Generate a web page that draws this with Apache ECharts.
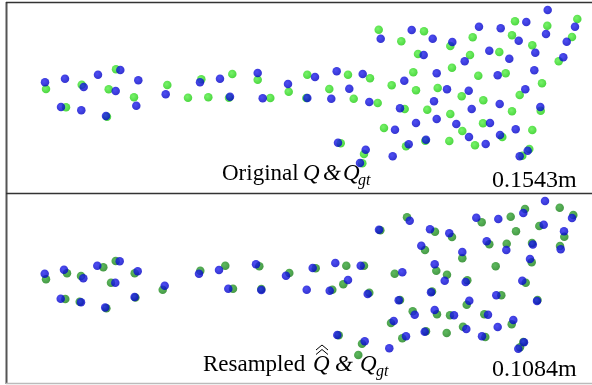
<!DOCTYPE html>
<html>
<head>
<meta charset="utf-8">
<script src="https://cdn.jsdelivr.net/npm/echarts@6/dist/echarts.min.js"></script>
<style>
html,body{margin:0;padding:0;background:#fff;}
#main{width:592px;height:385px;}
</style>
</head>
<body>
<div id="main"></div>
<script>
// top panel: original points (blue) and ground truth (green)
var topBlue = [[45,82.3],[65,78.7],[83.7,87],[98,74.7],[120.3,70],[115.7,91],[138.3,80.3],[136.3,105.7],[61,107],[81.3,110.3],[106,116],[165.7,94.3],[200,82.3],[220,78.7],[230,96.7],[257.7,73],[262.7,98.3],[288,84],
    [315,77],[307.3,98],[336.7,71.3],[362.7,74],[349.3,88.7],[331.3,98.7],[369.3,102],[380.7,38.7],[411.7,30],[432.7,38.7],[423.7,55],[452.3,42],[479,26.7],[500.7,28.3],[518.7,40.7],[526.3,22],[547.7,10],[546,34],[575,26.7],[566.7,41.7],[535.3,52.7],[489.3,50.7],[509.3,58.7],[464.7,61.3],[563.3,57.3],[436.7,73.3],[404.3,80.7],[447,89.3],[497.7,75.3],[534.3,70.3],[525.3,89.3],[468.7,90.7],[434,101.3],[400,108.3],[499.7,104],[471.7,109],[540.3,107],[436.7,119],[416,123],[456.3,124],[490,123],[395,129.7],[515.7,129.3],[469,137],[500,135],[426,139.7],[408.7,144.3],[485.7,144],[338,142.7],[365.7,149.7],[392.7,156.3],[360,163],[527.7,150.7],[519.7,156.3]];
var topGreen = [[46,89],[81.7,84.7],[116,69.3],[108.7,89.3],[134,97.3],[66,107.3],[107,116.7],[167.3,85],[188,97.7],[208.3,97.3],[201.3,79.3],[232.3,74],[229,97.7],[257.7,79.7],[270.3,98],[288.7,91.7],
    [307.3,74.7],[306.3,98],[348,74.7],[370,78.3],[329.3,89],[353.7,98.7],[377.7,103],[378.7,29.7],[424,31.3],[401.3,41.3],[418,54],[450.3,46],[472.7,37.3],[512,35.3],[515,21.3],[547.3,25.7],[577.3,19],[572,37],[532.3,45.3],[499.3,52],[470,55],[558.7,61.3],[452,67.7],[413.3,72.3],[391.7,85.3],[416,90.3],[437.7,88],[478.3,75.7],[505.7,73.3],[542,83.3],[519.7,95],[461.7,96.3],[404.7,109],[427.3,109.7],[483.3,100.3],[450.3,114],[512,111.3],[540.7,110.7],[483,123.3],[384,128],[462.3,131],[532.3,130],[502.3,137],[425.3,140.7],[449.3,141],[406,146.3],[475,145.3],[340.7,143.3],[364,154],[362.3,163.3],[529.3,149],[522.3,155.7]];

// bottom panel: resampled points (blue) and ground truth (green)
var botBlue = [[44.7,273.7],[64,269.7],[83.3,278.3],[97.3,265.7],[119.7,261.3],[115.3,282.7],[137.7,271.3],[60.7,298.7],[81,302.3],[105.2,307.6],[134.6,297],[164.7,285.7],[199,273.7],[219,270],[256,264.3],[228.3,288.7],[261.3,290],[286,275.7],
    [306.7,289.7],[312.7,268],[335.3,263],[360.7,265.7],[329.7,290.7],[348,280],[367.7,294],[379,229.7],[409.7,220.7],[430,229.3],[449.3,233.3],[421.3,245.7],[476.3,217.7],[498.3,219],[523.3,213],[545,201],[572,218],[543.7,224.7],[564,231.3],[486.7,241.3],[506.3,250],[532.8,244.5],[560.7,249.3],[462.3,252],[434.7,264.3],[444.7,280.7],[530,259],[402.3,272.3],[465.7,282],[522.3,280.7],[431,292.3],[398.7,300.3],[496.3,295.3],[469.3,300.7],[537,300.9],[434.7,310],[414.7,314.7],[454,315.3],[488,314.7],[513.3,320],[393.7,321],[497.7,327],[466.3,329],[424.7,331.7],[406,336.3],[482,336.3],[337.3,335],[364.7,341.3],[389.3,348.3],[524,342.3],[518.3,348.7]];
var botGreen = [[46,279.3],[67,273.3],[81,276],[103.3,267.3],[115.7,261],[111,282.7],[134.7,273.3],[65.3,299],[79.7,301.7],[106.4,308.2],[135.4,297.5],[162.7,289.7],[200.3,270.7],[225.3,265.7],[259.3,266.3],[233,288.7],[261.3,289],[289.3,273],
    [315.7,268.3],[346.3,265.7],[364,265.7],[332.3,289.7],[343.3,284.3],[369.3,292.7],[380.3,230.3],[407,217.3],[435,231.7],[452,237],[425,250],[481.7,222.3],[510.7,216.7],[525,209],[559.7,207.7],[573.3,215],[539.3,226],[516,231.3],[564.3,236.7],[489.3,244.3],[506.7,243.7],[532,243],[560,246],[462.3,258.3],[436.3,270.7],[447,274.7],[495.7,266.3],[531.7,262.3],[394.7,273.7],[467.3,280.3],[525.7,282.7],[432,291.5],[400,300],[501.3,295.3],[466.7,304.7],[537.5,300],[437,314.3],[412.7,311.3],[450,315.3],[484.3,314.3],[511.7,324.3],[391,323],[463,326.7],[426,331.3],[446.7,333],[402.3,338.3],[485.3,337],[338.7,335.3],[362,343.7],[358.3,355],[523.3,342],[520,347.3]];

var errTop = '0.1543m';
var errBot = '0.1084m';

var serif = '"Liberation Serif", "DejaVu Serif", serif';

function ball(c0, c1) {
    return {
        type: 'radial', x: 0.4, y: 0.38, r: 0.65,
        colorStops: [{offset: 0, color: c0}, {offset: 1, color: c1}]
    };
}
var blueBall = ball('#2222f0', '#0000c4');
var greenTop = ball('#55f044', '#1fcc10');
var greenBot = ball('#35a835', '#177f17');

function pts(name, data, idx, color) {
    return {
        name: name, type: 'scatter', data: data,
        xAxisIndex: idx, yAxisIndex: idx,
        symbolSize: 8.5, clip: false, silent: true,
        itemStyle: {color: color}
    };
}

function txt(s, x, y, size, italic) {
    return {
        type: 'text', x: x, y: y, silent: true,
        style: {
            text: s, fill: '#000', fontSize: size, fontFamily: serif,
            fontStyle: italic ? 'italic' : 'normal',
            align: 'left', verticalAlign: 'middle'
        }
    };
}
function line(x1, y1, x2, y2, color, w) {
    return {type: 'line', silent: true, shape: {x1: x1, y1: y1, x2: x2, y2: y2},
        style: {stroke: color, lineWidth: w}};
}
function hat(x, y) {
    return {type: 'polyline', silent: true, shape: {points: [[x, y + 5], [x + 6, y], [x + 12, y + 5]]},
        style: {stroke: '#000', lineWidth: 1, fill: null}};
}

var option = {
    animation: false,
    backgroundColor: '#fff',
    grid: [
        {left: 0, top: 0, width: 592, height: 193},
        {left: 0, top: 193, width: 592, height: 192}
    ],
    xAxis: [
        {type: 'value', gridIndex: 0, min: 0, max: 592, show: false},
        {type: 'value', gridIndex: 1, min: 0, max: 592, show: false}
    ],
    yAxis: [
        {type: 'value', gridIndex: 0, min: 0, max: 193, inverse: true, show: false},
        {type: 'value', gridIndex: 1, min: 193, max: 385, inverse: true, show: false}
    ],
    series: [
        pts('Qgt', topGreen, 0, greenTop),
        pts('Q', topBlue, 0, blueBall),
        pts('Qgt2', botGreen, 1, greenBot),
        pts('Qhat', botBlue, 1, blueBall)
    ],
    graphic: [
        line(6.5, 2, 6.5, 384, '#555', 2),
        line(6, 2.5, 592, 2.5, '#333', 1.5),
        line(6, 193.5, 592, 193.5, '#333', 1.5),
        line(6, 383.5, 592, 383.5, '#bbb', 1.5),
        txt('Original', 222, 173.5, 23, false),
        txt('Q', 303, 173.5, 23, true),
        txt('&', 323, 173.5, 23, true),
        txt('Q', 343, 173.5, 23, true),
        txt('gt', 358, 181, 16, true),
        txt(errTop, 492, 180.5, 24, false),
        txt('Resampled', 203, 364.5, 23, false),
        txt('Q', 313, 364.5, 23, true),
        hat(316, 345),
        hat(316, 349.5),
        txt('&', 335, 364.5, 23, true),
        txt('Q', 360, 364.5, 23, true),
        txt('gt', 376, 372, 16, true),
        txt(errBot, 492, 369.5, 24, false)
    ]
};

var myChart = echarts.init(document.getElementById('main'));
myChart.setOption(option);
</script>
</body>
</html>
